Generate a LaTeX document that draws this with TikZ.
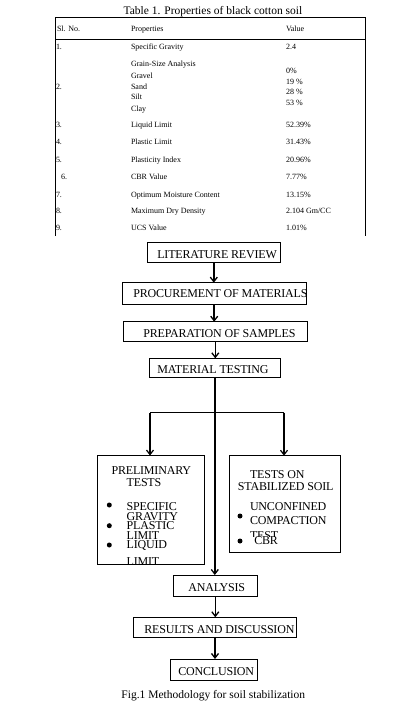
\documentclass[tikz,border=0pt]{standalone}
\usepackage{fontspec}
\setmainfont{Liberation Serif}
\newfontfamily\flowfont[LetterSpace=-1.5]{Liberation Serif}
\usetikzlibrary{arrows.meta}
\begin{document}
\begin{tikzpicture}[x=1pt,y=-1pt,
  every node/.style={inner sep=0pt,outer sep=0pt},
  tbl/.style={anchor=base west,font=\fontsize{8}{9}\selectfont},
  ttl/.style={anchor=base,font=\fontsize{11.5}{13}\selectfont},
  boxst/.style={draw,line width=0.9pt,minimum width=#1},
  ft/.style={anchor=west,font=\flowfont\fontsize{12}{13}\selectfont},
  fc/.style={anchor=center,font=\flowfont\fontsize{12}{13}\selectfont},
  arr/.style={line width=1.5pt,-{Straight Barb[length=4.5pt,width=7pt,line width=1.3pt]}},
  brl/.style={line width=1.2pt},
  barr/.style={line width=1.2pt,-{Straight Barb[length=4.5pt,width=7pt,line width=1.2pt]}},
  bul/.style={circle,fill=black,minimum size=5pt}
]
\useasboundingbox (0,0) rectangle (400,710);
\fill[white] (0,0) rectangle (400,710);

% ---------- table ----------
\node[ttl] (ttitle) at (213,14) {Table 1. Properties of black cotton soil};
\draw[line width=0.8pt] (55,236) coordinate (tbl1) -- (55,17.3) coordinate (tbl2) -- (365,17.3) coordinate (tbl3) -- (365,236) coordinate (tbl4);
\draw[line width=0.8pt] (55,39.5) coordinate (th1) -- (365,39.5) coordinate (th2);

\node[tbl] (h1) at (57,31.5) {Sl. No.};
\node[tbl] (h2) at (131,31.5) {Properties};
\node[tbl] (h3) at (286,31.5) {Value};

\node[tbl] (n1) at (56,49.7) {1.};
\node[tbl] (p1) at (131,49.7) {Specific Gravity};
\node[tbl] (v1) at (286,49.7) {2.4};

\node[tbl] (p2a) at (131,66.3) {Grain-Size Analysis};
\node[tbl] (v2a) at (286,73) {0\%};
\node[tbl] (p2b) at (131,78) {Gravel};
\node[tbl] (v2b) at (286,84) {19 \%};
\node[tbl] (n2) at (56,89) {2.};
\node[tbl] (p2c) at (131,89) {Sand};
\node[tbl] (v2c) at (286,94.7) {28 \%};
\node[tbl] (p2d) at (131,99.7) {Silt};
\node[tbl] (v2d) at (286,105.3) {53 \%};
\node[tbl] (p2e) at (131,111.3) {Clay};

\node[tbl] (n3) at (56,127) {3.};
\node[tbl] (p3) at (131,127) {Liquid Limit};
\node[tbl] (v3) at (286,127) {52.39\%};
\node[tbl] (n4) at (56,144.7) {4.};
\node[tbl] (p4) at (131,144.7) {Plastic Limit};
\node[tbl] (v4) at (286,144.7) {31.43\%};
\node[tbl] (n5) at (56,162) {5.};
\node[tbl] (p5) at (131,162) {Plasticity Index};
\node[tbl] (v5) at (286,162) {20.96\%};
\node[tbl] (n6) at (61,179.7) {6.};
\node[tbl] (p6) at (131,179.7) {CBR Value};
\node[tbl] (v6) at (286,179.7) {7.77\%};
\node[tbl] (n7) at (56,197) {7.};
\node[tbl] (p7) at (131,197) {Optimum Moisture Content};
\node[tbl] (v7) at (286,197) {13.15\%};
\node[tbl] (n8) at (56,213) {8.};
\node[tbl] (p8) at (131,213) {Maximum Dry Density};
\node[tbl] (v8) at (286,213) {2.104 Gm/CC};
\node[tbl] (n9) at (56,230.3) {9.};
\node[tbl] (p9) at (131,230.3) {UCS Value};
\node[tbl] (v9) at (286,230.3) {1.01\%};

% ---------- flowchart boxes ----------
\node[boxst=133,minimum height=19.6] (lit) at (213.8,252.5) {};
\node[boxst=183.7,minimum height=22] (proc) at (214.2,293.7) {};
\node[boxst=184,minimum height=19.3] (prep) at (215.3,331.4) {};
\node[boxst=131,minimum height=18.7] (mat) at (214.8,367.7) {};
\node[boxst=107.4,minimum height=108.8] (prel) at (151,509.9) {};
\node[boxst=110.7,minimum height=96.6] (stab) at (284.7,504) {};
\node[boxst=84,minimum height=21] (ana) at (215.3,585.5) {};
\node[boxst=163.4,minimum height=20] (res) at (215,627.3) {};
\node[boxst=87.3,minimum height=21] (conc) at (213.7,669.5) {};

\node[ft] (litt) at (157.3,254.7) {LITERATURE REVIEW};
\node[ft] (proct) at (133.3,294) {PROCUREMENT OF MATERIALS};
\node[ft] (prept) at (143.3,333.3) {PREPARATION OF SAMPLES};
\node[ft] (matt) at (157.3,370) {MATERIAL TESTING};
\node[ft] (anat) at (188.3,587.5) {ANALYSIS};
\node[ft] (rest) at (144.3,629.2) {RESULTS AND DISCUSSION};
\node[ft] (conct) at (178.3,671.2) {CONCLUSION};

% left box contents
\node[fc] (pr1) at (151.3,470.7) {PRELIMINARY};
\node[fc] (pr2) at (144,482.7) {TESTS};
\node[bul] (b1) at (109.3,505) {};
\node[bul] (b2) at (109.3,525.7) {};
\node[bul] (b3) at (109.3,545) {};
\node[ft] (i1) at (126.7,506.7) {SPECIFIC};
\node[ft] (i2) at (126.7,516.7) {GRAVITY};
\node[ft] (i3) at (126.7,526) {PLASTIC};
\node[ft] (i4) at (126.7,535.7) {LIMIT};
\fill[white] (120,539.8) rectangle (200,552);
\node[ft] (i5) at (126.7,545.7) {LIQUID};
\begin{scope}
\clip (98,550) rectangle (204,563.8);
\node[ft] (i6) at (126.7,561.2) {LIMIT};
\end{scope}

% right box contents
\node[fc] (st1) at (277.3,474.3) {TESTS ON};
\node[fc] (st2) at (285.7,486.7) {STABILIZED SOIL};
\node[ft] (s1) at (250,506.7) {UNCONFINED};
\node[ft] (s2) at (250,521) {COMPACTION};
\node[ft] (s3) at (250,535.5) {TEST};
\fill[white] (246,536.6) rectangle (320,548);
\node[ft] (s4) at (254.3,541) {CBR};
\node[bul] (b4) at (240,516) {};
\node[bul] (b5) at (240,541) {};

% ---------- connectors ----------
\draw[arr] (lit.south) -- (lit.south |- proc.north);
\draw[arr] (proc.south) -- (proc.south |- prep.north);
\draw[arr] (prep.south) -- (prep.south |- mat.north);
\draw[arr] (mat.south) -- (mat.south |- ana.north);
\draw[arr] (ana.south) -- (ana.south |- res.north);
\draw[arr] (res.south) -- (res.south |- conc.north);

\coordinate (bl) at (150,412.7);
\coordinate (bR) at (284,412.7);
\draw[brl] (bl) -- (bR);
\draw[barr] (bl) -- (bl |- prel.north);
\draw[barr] (bR) -- (bR |- stab.north);

% caption
\node[ttl] (cap) at (213.3,698.6) {Fig.1 Methodology for soil stabilization};
\end{tikzpicture}
\end{document}
